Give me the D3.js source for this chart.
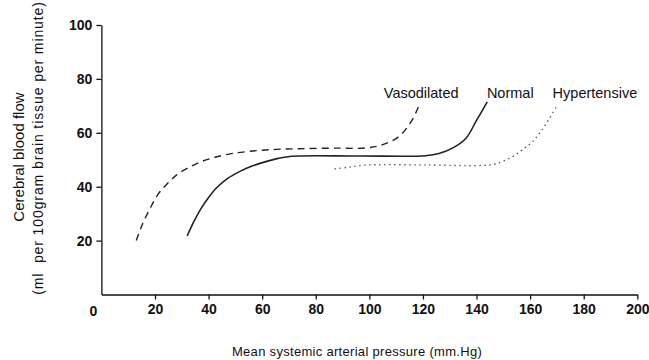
<!DOCTYPE html>
<html>
<head>
<meta charset="utf-8">
<script src="https://cdn.jsdelivr.net/npm/d3@7"></script>
<style>
  body { margin: 0; background: #fff; }
  svg text { font-family: "Liberation Sans", Arial, Helvetica, sans-serif; fill: #111; }
</style>
</head>
<body>
<svg id="chart"></svg>
<script>
// values (pressure in mm.Hg, flow in ml/100g/min)
var vasoPressure = [13, 15.5, 18, 21, 24.4, 28, 32, 37, 42, 48, 55, 64, 74, 87, 99, 105, 111, 116, 118.6];
var vasoFlow = [20, 26.5, 31.6, 37, 40.9, 44.3, 46.8, 49.2, 50.8, 52.2, 53.1, 53.8, 54.1, 54.3, 54.4, 55.6, 58.6, 64.8, 70.3];

var normalPressure = [32, 34.5, 37, 40, 43, 47, 51.7, 56, 61.7, 66, 71, 96, 121, 126, 131, 136, 140, 144];
var normalFlow = [21.7, 27, 31.6, 36, 39.6, 43, 45.7, 47.6, 49.4, 50.5, 51.3, 51.4, 51.5, 52.3, 54.3, 57.9, 64.6, 71.5];

var hyperPressure = [87, 92, 98, 120, 145, 150, 154, 158, 161, 164, 167, 170];
var hyperFlow = [46.6, 47.2, 48, 48.1, 48.1, 49.5, 51.5, 54.4, 56.8, 60.5, 65, 70];

var seriesNames = ["Vasodilated", "Normal", "Hypertensive"];
var xTicks = [20, 40, 60, 80, 100, 120, 140, 160, 180, 200];
var yTicks = [20, 40, 60, 80, 100];

var w = 649, h = 360;

var svg = d3.select("#chart").attr("width", w).attr("height", h);

var xScale = d3.scaleLinear().domain([0, 200]).range([101.4, 637.3]);
var yScale = d3.scaleLinear().domain([0, 100]).range([294.5, 25]);

// x axis, no tick at the origin
var xAxis = svg.append("g")
  .attr("transform", "translate(0," + yScale(0) + ")")
  .call(d3.axisBottom(xScale).tickValues(xTicks).tickSize(5).tickSizeOuter(0).tickPadding(5));
xAxis.select(".domain").attr("stroke", "#111").attr("stroke-width", 1.3);
xAxis.selectAll(".tick line").attr("stroke", "#111").attr("stroke-width", 1.3);
xAxis.selectAll(".tick text").style("font-size", "14px").style("font-weight", "bold").attr("fill", "#111");

svg.append("text")
  .attr("x", xScale(0) - 8)
  .attr("y", yScale(0) + 21)
  .style("font-size", "14px")
  .style("font-weight", "bold")
  .style("text-anchor", "middle")
  .text("0");

// y axis
var yAxis = svg.append("g")
  .attr("transform", "translate(" + xScale(0) + ",0)")
  .call(d3.axisLeft(yScale).tickValues(yTicks).tickSize(5).tickSizeOuter(0).tickPadding(4));
yAxis.select(".domain").attr("stroke", "#111").attr("stroke-width", 1.3);
yAxis.selectAll(".tick line").attr("stroke", "#111").attr("stroke-width", 1.3);
yAxis.selectAll(".tick text").style("font-size", "14px").style("font-weight", "bold").attr("fill", "#111");

// axis titles
svg.append("text")
  .attr("x", 357).attr("y", 356)
  .style("font-size", "13px")
  .style("letter-spacing", "0.3px")
  .style("text-anchor", "middle")
  .text("Mean systemic arterial pressure (mm.Hg)");

svg.append("text")
  .attr("transform", "translate(18,157) rotate(-90)")
  .attr("dominant-baseline", "central")
  .style("font-size", "15px")
  .style("text-anchor", "middle")
  .text("Cerebral blood flow");

svg.append("text")
  .attr("transform", "translate(38,148) rotate(-90)")
  .attr("dominant-baseline", "central")
  .style("font-size", "14px")
  .style("letter-spacing", "0.9px")
  .style("white-space", "pre")
  .style("text-anchor", "middle")
  .text("(ml  per 100gram brain tissue per minute)");

// curves
var line = d3.line()
  .x(function(d) { return xScale(d[0]); })
  .y(function(d) { return yScale(d[1]); })
  .curve(d3.curveCatmullRom.alpha(0.5));

function pairs(xs, ys) {
  return xs.map(function(x, i) { return [x, ys[i]]; });
}

svg.append("path")
  .datum(pairs(vasoPressure, vasoFlow))
  .attr("d", line)
  .attr("fill", "none")
  .attr("stroke", "#222")
  .attr("stroke-width", 1.4)
  .attr("stroke-dasharray", "7,5");

svg.append("path")
  .datum(pairs(normalPressure, normalFlow))
  .attr("d", line)
  .attr("fill", "none")
  .attr("stroke", "#222")
  .attr("stroke-width", 1.6);

svg.append("path")
  .datum(pairs(hyperPressure, hyperFlow))
  .attr("d", line)
  .attr("fill", "none")
  .attr("stroke", "#555")
  .attr("stroke-width", 1.4)
  .attr("stroke-dasharray", "1.4,3.6");

// curve labels, placed near the top of each curve
var labelPos = [
  { name: seriesNames[0], x: xScale(vasoPressure[vasoPressure.length - 1]) + 2 },
  { name: seriesNames[1], x: xScale(normalPressure[normalPressure.length - 1]) + 23 },
  { name: seriesNames[2], x: xScale(hyperPressure[hyperPressure.length - 1]) + 38 }
];
svg.selectAll(".clabel").data(labelPos).enter().append("text")
  .attr("class", "clabel")
  .attr("x", function(d) { return d.x; })
  .attr("y", 98)
  .style("font-size", "14.5px")
  .style("text-anchor", "middle")
  .text(function(d) { return d.name; });
</script>
</body>
</html>
